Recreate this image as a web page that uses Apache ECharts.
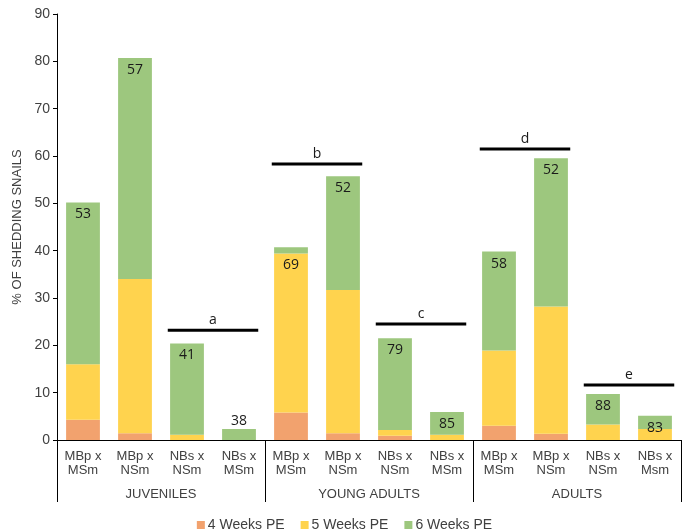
<!DOCTYPE html>
<html>
<head>
<meta charset="utf-8">
<script src="https://cdn.jsdelivr.net/npm/echarts@6/dist/echarts.min.js"></script>
<style>html,body{margin:0;padding:0;background:#fff;}#c{width:689px;height:531px;}</style>
</head>
<body>
<div id="c"></div>
<script>
const categories = ['MBp x\nMSm','MBp x\nNSm','NBs x\nNSm','NBs x\nMSm','MBp x\nMSm','MBp x\nNSm','NBs x\nNSm','NBs x\nMSm','MBp x\nMSm','MBp x\nNSm','NBs x\nNSm','NBs x\nMsm'];
const groups = ['JUVENILES','YOUNG ADULTS','ADULTS'];
const weeks4 = [4.3, 1.4, 0, 0, 5.8, 1.4, 0.9, 0, 3.0, 1.3, 0, 0];
const weeks5 = [11.7, 32.6, 1.1, 0, 33.6, 30.3, 1.2, 1.1, 15.9, 26.9, 3.3, 2.3];
const weeks6 = [34.2, 46.7, 19.3, 2.3, 1.3, 24.0, 19.4, 4.8, 20.9, 31.3, 6.4, 2.8];
const sampleSizes = ['53','57','41','38','69','52','79','85','58','52','88','83'];
const bracketStart = [2, 4, 6, 8, 10];
const bracketEnd = [3, 5, 7, 9, 11];
const bracketY = [23.2, 58.3, 24.5, 61.5, 11.6];
const bracketLetters = ['a','b','c','d','e'];

const labelFont = {fontFamily:'"Open Sans"', fontSize:14, color:'#1a1a1a'};

function labelTarget(i){
  if (weeks6[i] < 1.5) return 'yellow';
  if (weeks6[i] < 3 && weeks5[i] === 0) return 'top';
  return 'green';
}

const d5 = weeks5.map((v,i)=> labelTarget(i)==='yellow'
  ? {value:v, label:Object.assign({show:true, position:'insideTop', distance:5, formatter:sampleSizes[i]}, labelFont)}
  : v);
const d6 = weeks6.map((v,i)=>{
  const t = labelTarget(i);
  if (t==='green') return {value:v, label:Object.assign({show:true, position:'insideTop', distance:5, formatter:sampleSizes[i]}, labelFont)};
  if (t==='top') return {value:v, label:Object.assign({show:true, position:'top', distance:1, formatter:sampleSizes[i]}, labelFont)};
  return v;
});

const chart = echarts.init(document.getElementById('c'));
chart.setOption({
  animation:false,
  backgroundColor:'#fff',
  grid:{left:57, right:8, top:14, bottom:91, containLabel:false},
  legend:{
    data:['4 Weeks PE','5 Weeks PE','6 Weeks PE'],
    top:513, left:'center',
    icon:'rect', itemWidth:8, itemHeight:8, itemGap:16,
    textStyle:{fontFamily:'"Liberation Sans", Arial', fontSize:14, color:'#404040', padding:[0,0,0,-2]}
  },
  xAxis:[{
    type:'category', data:categories, position:'bottom',
    axisLine:{show:true, lineStyle:{color:'#000', width:1}},
    axisTick:{show:true, length:62, interval:(idx)=> idx%4===0, lineStyle:{color:'#000', width:1}},
    axisLabel:{interval:0, margin:9, fontFamily:'"Liberation Sans", Arial', fontSize:13, lineHeight:14, color:'#404040'}
  },{
    type:'category', data:groups, position:'bottom', gridIndex:0,
    axisLine:{show:false}, axisTick:{show:false},
    axisLabel:{interval:0, margin:48, fontFamily:'"Liberation Sans", Arial', fontSize:13, color:'#404040'}
  }],
  yAxis:{
    type:'value', min:0, max:90, interval:10,
    name:'% OF SHEDDING SNAILS', nameLocation:'middle', nameGap:33, nameRotate:90,
    nameTextStyle:{fontFamily:'"Liberation Sans", Arial', fontSize:13, color:'#404040'},
    axisLine:{show:true, lineStyle:{color:'#000', width:1}},
    axisTick:{show:true, length:4, lineStyle:{color:'#000'}},
    axisLabel:{margin:7, fontFamily:'"Liberation Sans", Arial', fontSize:14, color:'#404040'},
    splitLine:{show:false}
  },
  series:[
    {name:'4 Weeks PE', type:'bar', stack:'s', data:weeks4, barWidth:'65%', itemStyle:{color:'#F2A26E'}},
    {name:'5 Weeks PE', type:'bar', stack:'s', data:d5, barWidth:'65%', itemStyle:{color:'#FFD34E'}},
    {name:'6 Weeks PE', type:'bar', stack:'s', data:d6, barWidth:'65%', itemStyle:{color:'#9DC77E'}},
    {
      type:'custom', xAxisIndex:0, yAxisIndex:0, silent:true, z:10,
      data: bracketStart.map((s,i)=>[s, bracketEnd[i], bracketY[i]]),
      encode:{x:[0,1], y:2},
      renderItem:(params, api)=>{
        const p1 = api.coord([api.value(0), api.value(2)]);
        const p2 = api.coord([api.value(1), api.value(2)]);
        const band = api.size([1,0])[0];
        const ext = band*0.37;
        return {type:'group', children:[
          {type:'line', shape:{x1:p1[0]-ext, y1:p1[1], x2:p2[0]+ext, y2:p2[1]}, style:{stroke:'#000', lineWidth:3}},
          {type:'text', style:{text:bracketLetters[params.dataIndex], x:(p1[0]+p2[0])/2, y:p1[1]-3, align:'center', verticalAlign:'bottom', font:'14px "Open Sans"', fill:'#1a1a1a'}}
        ]};
      }
    }
  ]
});
</script>
</body>
</html>
